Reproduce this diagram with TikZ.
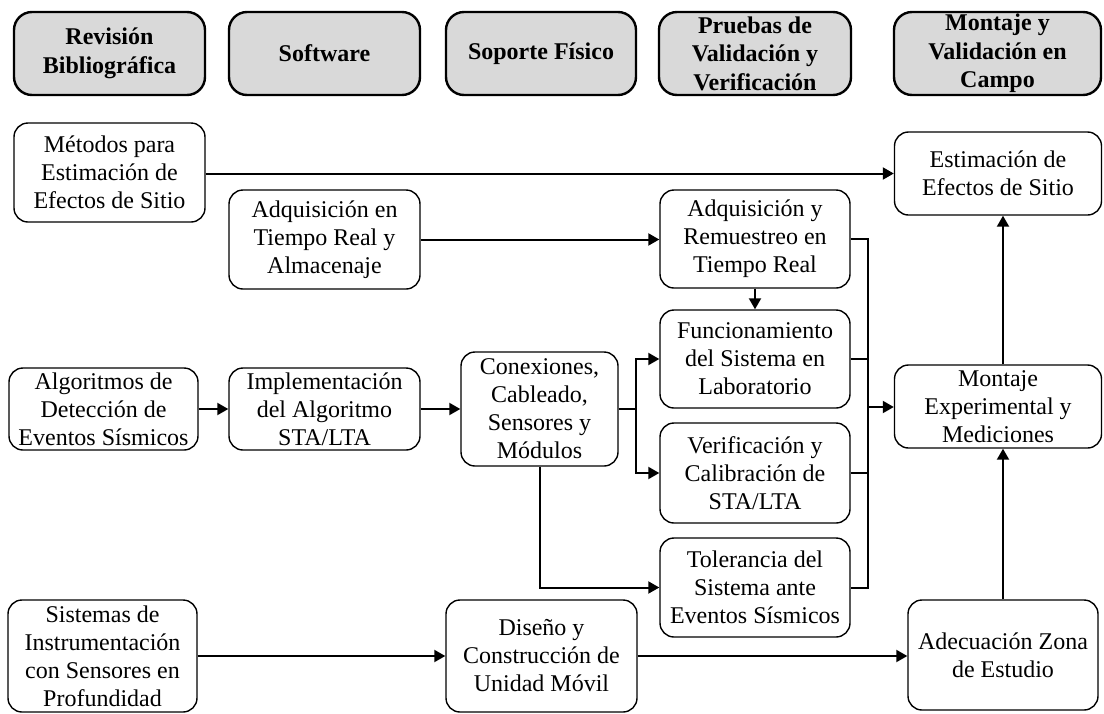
\documentclass[tikz,border=0pt]{standalone}
\usepackage{fontspec}
\setmainfont{Liberation Serif}
\usetikzlibrary{arrows.meta}
\definecolor{hdrgray}{RGB}{217,217,217}
\begin{document}
\begin{tikzpicture}[x=1pt,y=-1pt,
  box/.style={draw, rounded corners=14pt, line width=1.4pt, align=center, inner sep=0pt,
    font=\fontsize{24}{28}\selectfont},
  hdr/.style={box, fill=hdrgray, line width=2.4pt, rounded corners=18pt,
    font=\fontsize{24}{28.5}\selectfont\bfseries, minimum height=83pt},
  conn/.style={line width=2pt},
  arr/.style={conn, -{Triangle[length=11pt,width=12pt]}}]
\useasboundingbox (0,0) rectangle (1104,713);
% headers
\node[hdr, minimum width=191pt] (h1) at (109.5,53.5) {Revisión\\Bibliográfica};
\node[hdr, minimum width=191pt] (h2) at (324.5,53.5) {Software};
\node[hdr, minimum width=190pt] (h3) at (541,53.5) {Soporte Físico};
\node[hdr, minimum width=192pt] (h4) at (755,53.5) {Pruebas de\\Validación y\\Verificación};
\node[hdr, minimum width=207pt] (h5) at (997.5,53.5) {Montaje y\\Validación en\\Campo};
% column 1
\node[box, minimum width=191pt, minimum height=99pt] (met) at (109.5,172.5) {Métodos para\\Estimación de\\Efectos de Sitio};
\node[box, minimum width=189pt, minimum height=82pt] (alg) at (103.5,409) {Algoritmos de\\Detección de\\Eventos Sísmicos};
\node[box, minimum width=189pt, minimum height=112pt] (sis) at (102.5,656) {Sistemas de\\Instrumentación\\con Sensores en\\Profundidad};
% column 2
\node[box, minimum width=191pt, minimum height=99pt] (adqtr) at (324.5,239.5) {Adquisición en\\Tiempo Real y\\Almacenaje};
\node[box, minimum width=191pt, minimum height=82pt] (imp) at (324.5,409) {Implementación\\del Algoritmo\\STA/LTA};
% column 3
\node[box, minimum width=157pt, minimum height=114pt] (con) at (539.5,409) {Conexiones,\\Cableado,\\Sensores y\\Módulos};
\node[box, minimum width=191pt, minimum height=112pt] (dis) at (541.5,656) {Diseño y\\Construcción de\\Unidad Móvil};
% column 4
\node[box, minimum width=190pt, minimum height=98pt] (adqrem) at (755,239) {Adquisición y\\Remuestreo en\\Tiempo Real};
\node[box, minimum width=190pt, minimum height=98pt] (fun) at (755,359) {Funcionamiento\\del Sistema en\\Laboratorio};
\node[box, minimum width=190pt, minimum height=100pt] (ver) at (755,473) {Verificación y\\Calibración de\\STA/LTA};
\node[box, minimum width=190pt, minimum height=99pt] (tol) at (755,587.5) {Tolerancia del\\Sistema ante\\Eventos Sísmicos};
% column 5
\node[box, minimum width=207pt, minimum height=83pt] (est) at (998,173.5) {Estimación de\\Efectos de Sitio};
\node[box, minimum width=207pt, minimum height=83pt] (mon) at (998,406.5) {Montaje\\Experimental y\\Mediciones};
\node[box, minimum width=190pt, minimum height=110pt] (ade) at (1003,655) {Adecuación Zona\\de Estudio};
% helper coordinates
\coordinate (split) at (636,409);
\coordinate (bus) at (868,407);
% connectors
\draw[arr] (met.east |- est.west) -- (est.west);
\draw[arr] (adqtr.east) -- (adqtr.east -| adqrem.west);
\draw[arr] (alg.east |- imp.west) -- (imp.west);
\draw[arr] (imp.east) -- (imp.east -| con.west);
\draw[conn] (con.east) -- (split);
\draw[arr] (split) |- (fun.west);
\draw[arr] (split) |- (ver.west);
\draw[arr] (con.south) |- (tol.west);
\draw[arr] (adqrem.south) -- (fun.north);
\draw[conn] (adqrem.east) -- (adqrem.east -| bus) -- (tol.east -| bus) -- (tol.east);
\draw[conn] (fun.east) -- (fun.east -| bus);
\draw[conn] (ver.east) -- (ver.east -| bus);
\draw[arr] (bus) -- (bus -| mon.west);
\draw[arr] (sis.east |- dis.west) -- (dis.west);
\draw[arr] (dis.east) -- (dis.east -| ade.west);
\draw[arr] (ade.north) -- (ade.north |- mon.south);
\draw[arr] (ade.north |- mon.north) -- (ade.north |- est.south);
\end{tikzpicture}
\end{document}
